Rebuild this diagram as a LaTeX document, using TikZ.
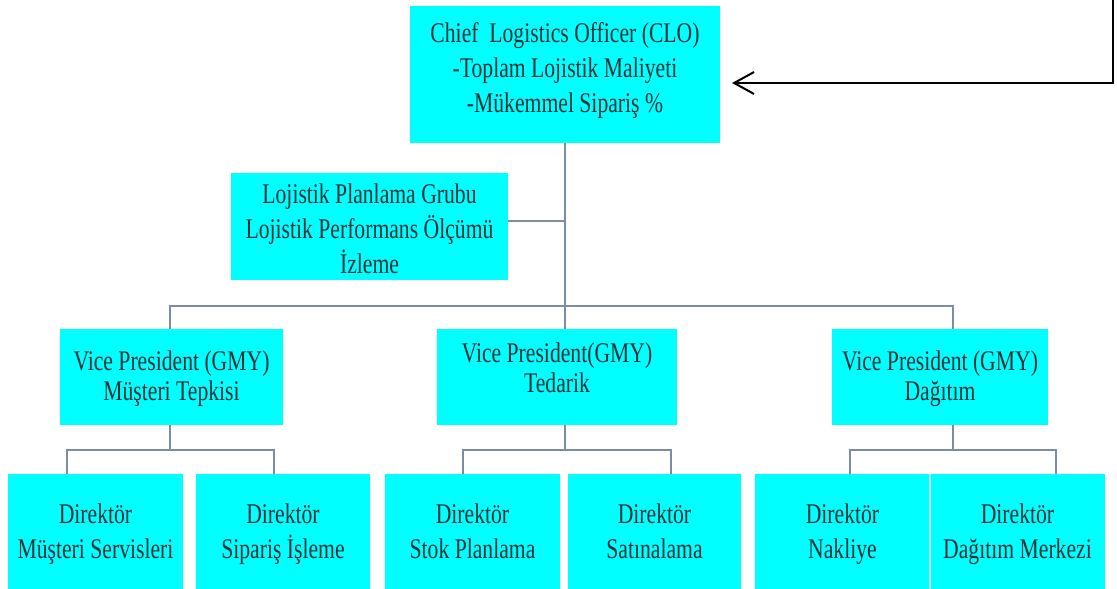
\documentclass[tikz,border=0pt]{standalone}
\usepackage{fontspec}
\setmainfont{Liberation Serif}[FakeStretch=0.76]
\usetikzlibrary{arrows.meta}
\definecolor{boxcyan}{RGB}{0,255,255}
\definecolor{boxtext}{RGB}{25,50,55}
\definecolor{linkgray}{RGB}{125,140,165}
\definecolor{sepline}{RGB}{200,235,240}

% centred lines with equal strut spacing
\newcommand{\boxlines}[1]{\begin{tabular}{@{}c@{}}#1\end{tabular}}

\begin{document}
\begin{tikzpicture}[x=1pt,y=-1pt,
  orgbox/.style={fill=boxcyan, text=boxtext, inner sep=0pt, outer sep=0pt,
    font=\fontsize{28.5}{35}\selectfont},
  vpbox/.style={orgbox, font=\fontsize{28.5}{30}\selectfont,
    minimum height=96pt},
  dirbox/.style={orgbox, minimum height=119pt},
  link/.style={draw=linkgray, line width=1.5pt},
  feedback/.style={draw=black, line width=2.5pt,
    -{Straight Barb[length=20pt,width=22pt,line width=2pt]}}]

\useasboundingbox (0,0) rectangle (1117,589);

% top of the hierarchy
\node[orgbox, minimum width=310pt, minimum height=137pt] (clo) at (565,74.5)
  {\boxlines{Chief\ \ Logistics Officer (CLO)\\-Toplam Lojistik Maliyeti\\-Mükemmel Sipariş \%\\[9pt]}};
\node[orgbox, minimum width=277pt, minimum height=107pt] (lpg) at (369.5,226.5)
  {\boxlines{Lojistik Planlama Grubu\\Lojistik Performans Ölçümü\\İzleme\\[-9pt]}};

% vice presidents
\node[vpbox, minimum width=223pt] (vp1) at (171.5,377)
  {\boxlines{Vice President (GMY)\\Müşteri Tepkisi\\[-4pt]}};
\node[vpbox, minimum width=240pt] (vp2) at (557,377)
  {\boxlines{Vice President(GMY)\\Tedarik\\[12pt]}};
\node[vpbox, minimum width=216pt] (vp3) at (940,377)
  {\boxlines{Vice President (GMY)\\Dağıtım\\[-4pt]}};

% directors
\node[dirbox, minimum width=175pt] (d1) at (95.5,533.5) {\boxlines{Direktör\\Müşteri Servisleri}};
\node[dirbox, minimum width=174pt] (d2) at (283,533.5) {\boxlines{Direktör\\Sipariş İşleme}};
\node[dirbox, minimum width=175pt] (d3) at (472.5,533.5) {\boxlines{Direktör\\Stok Planlama}};
\node[dirbox, minimum width=173pt] (d4) at (654.5,533.5) {\boxlines{Direktör\\Satınalama}};
\node[dirbox, minimum width=175pt] (d5) at (842.5,533.5) {\boxlines{Direktör\\Nakliye}};
\node[dirbox, minimum width=175pt] (d6) at (1017.5,533.5) {\boxlines{Direktör\\Dağıtım Merkezi}};
\draw[sepline, line width=1.5pt] (d6.north west) -- (d6.south west);

% junction points of the connector buses
\coordinate (busL) at (170,306);
\coordinate (busR) at (953,306);
\coordinate (s1L) at (67,450);
\coordinate (s1R) at (274,450);
\coordinate (s2L) at (463,450);
\coordinate (s2R) at (671,450);
\coordinate (s3L) at (850,450);
\coordinate (s3R) at (1056,450);

% main trunk and staff group
\draw[link] (clo.south) -- (clo.south |- vp2.north);
\draw[link] (lpg.east |- 0,221) -- (clo.south |- 0,221);
\draw[link] (vp1.north -| busL) -- (busL) -- (busR) -- (busR |- vp3.north);

% vice presidents to directors
\draw[link] (vp1.south -| busL) -- (busL |- s1L);
\draw[link] (s1L |- d1.north) -- (s1L) -- (s1R) -- (s1R |- d2.north);
\draw[link] (vp2.south -| clo.south) -- (clo.south |- s2L);
\draw[link] (s2L |- d3.north) -- (s2L) -- (s2R) -- (s2R |- d4.north);
\draw[link] (vp3.south -| busR) -- (busR |- s3L);
\draw[link] (s3L |- d5.north) -- (s3L) -- (s3R) -- (s3R |- d6.north);

% feedback arrow into the CLO
\coordinate (fbTop) at (1113,0);
\coordinate (fbCorner) at (1113,83);
\coordinate (fbEnd) at (732,83);
\draw[feedback] (fbTop) -- (fbCorner) -- (fbEnd);
\end{tikzpicture}
\end{document}
